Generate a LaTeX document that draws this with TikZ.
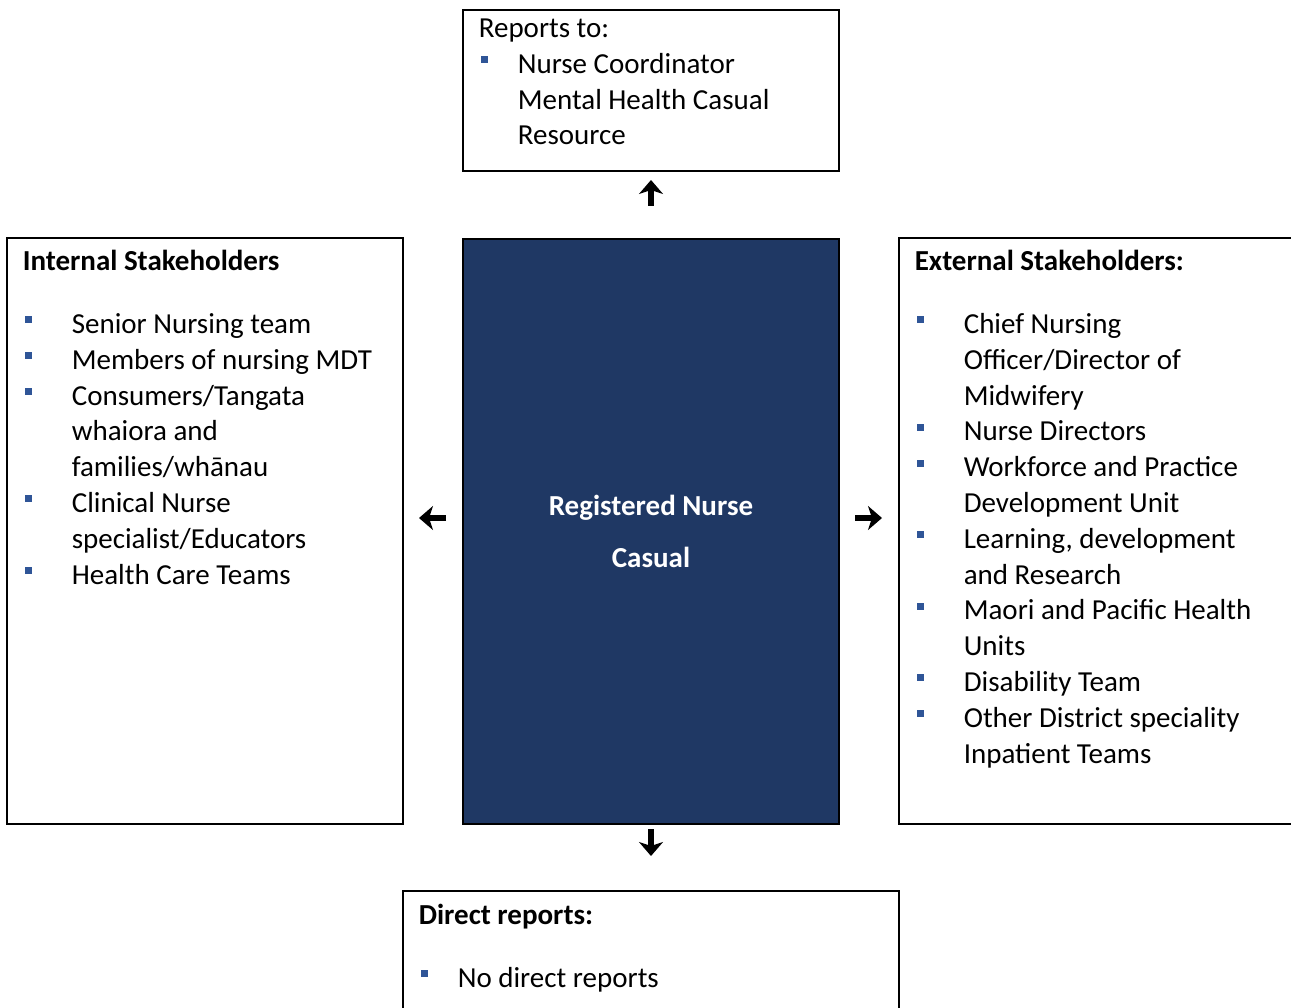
\documentclass[tikz,border=0pt]{standalone}
\usepackage{fontspec}
\setmainfont{Carlito}
\usetikzlibrary{arrows.meta}
\definecolor{navy}{RGB}{31,56,100}
\definecolor{bulblue}{RGB}{47,85,151}
\newcommand{\bul}{\raisebox{10pt}{\textcolor{bulblue}{\rule{7pt}{7pt}}}}
\newcommand{\bitem}[1]{\makebox[#1][l]{\hspace{2pt}\bul}}
\newcommand{\bcont}[1]{\hspace*{#1}}

\begin{document}
\begin{tikzpicture}[x=1pt, y=-1pt, line width=1.6pt,
    main/.style = {draw, anchor=north west, inner sep=0pt},
    txt/.style = {anchor=base west, align=left, inner sep=0pt, font=\fontsize{29}{35.8}\selectfont},
    arr/.style = {-{Stealth[length=14pt, width=24pt, inset=4pt]}, line width=6pt}]
    \clip (0,0) rectangle (1291,1008);
    % Boxes

    \node[main, minimum width=376pt, minimum height=161pt] (top) at (462, 9) {};
    \node[main, minimum width=396pt, minimum height=586pt] (left) at (6, 237) {};
    \node[main, fill=navy, minimum width=376pt, minimum height=585pt] (mid) at (462, 238) {};
    \node[main, minimum width=420pt, minimum height=586pt] (right) at (898, 237) {};
    \node[main, minimum width=496pt, minimum height=150pt] (bot) at (402, 890) {};

    % Texts (anchored at the last line)
    \node[txt] (toptxt) at (478, 145) {Reports to:\\
        \bitem{39pt}Nurse Coordinator\\
        \bcont{39pt}Mental Health Casual\\
        \bcont{39pt}Resource};

    \node[txt] (lefttxt) at (22, 584) {\textbf{Internal Stakeholders}\\[27pt]
        \bitem{49pt}Senior Nursing team\\
        \bitem{49pt}Members of nursing MDT\\
        \bitem{49pt}Consumers/Tangata\\
        \bcont{49pt}whaiora and\\
        \bcont{49pt}families/whānau\\
        \bitem{49pt}Clinical Nurse\\
        \bcont{49pt}specialist/Educators\\
        \bitem{49pt}Health Care Teams};

    \node[txt] (righttxt) at (914, 763) {\textbf{External Stakeholders:}\\[27pt]
        \bitem{49pt}Chief Nursing\\
        \bcont{49pt}Officer/Director of\\
        \bcont{49pt}Midwifery\\
        \bitem{49pt}Nurse Directors\\
        \bitem{49pt}Workforce and Practice\\
        \bcont{49pt}Development Unit\\
        \bitem{49pt}Learning, development\\
        \bcont{49pt}and Research\\
        \bitem{49pt}Maori and Pacific Health\\
        \bcont{49pt}Units\\
        \bitem{49pt}Disability Team\\
        \bitem{49pt}Other District speciality\\
        \bcont{49pt}Inpatient Teams};

    \node[txt] (bottxt) at (418, 987) {\textbf{Direct reports:}\\[27pt]
        \bitem{39pt}No direct reports};

    \node[anchor=base, align=center, inner sep=0pt, text=white, font=\fontsize{29}{52}\selectfont\bfseries] (midtxt) at (651, 567) {Registered Nurse\\Casual};

    % Arrows
    \coordinate (upa) at (651, 206);
    \coordinate (upb) at (651, 180);
    \coordinate (lfa) at (446, 518);
    \coordinate (lfb) at (419, 518);
    \coordinate (rta) at (855, 518);
    \coordinate (rtb) at (882, 518);
    \coordinate (dna) at (651, 829);
    \coordinate (dnb) at (651, 856);

    \draw[arr] (upa) -- (upb);
    \draw[arr] (lfa) -- (lfb);
    \draw[arr] (rta) -- (rtb);
    \draw[arr] (dna) -- (dnb);

\end{tikzpicture}
\end{document}
